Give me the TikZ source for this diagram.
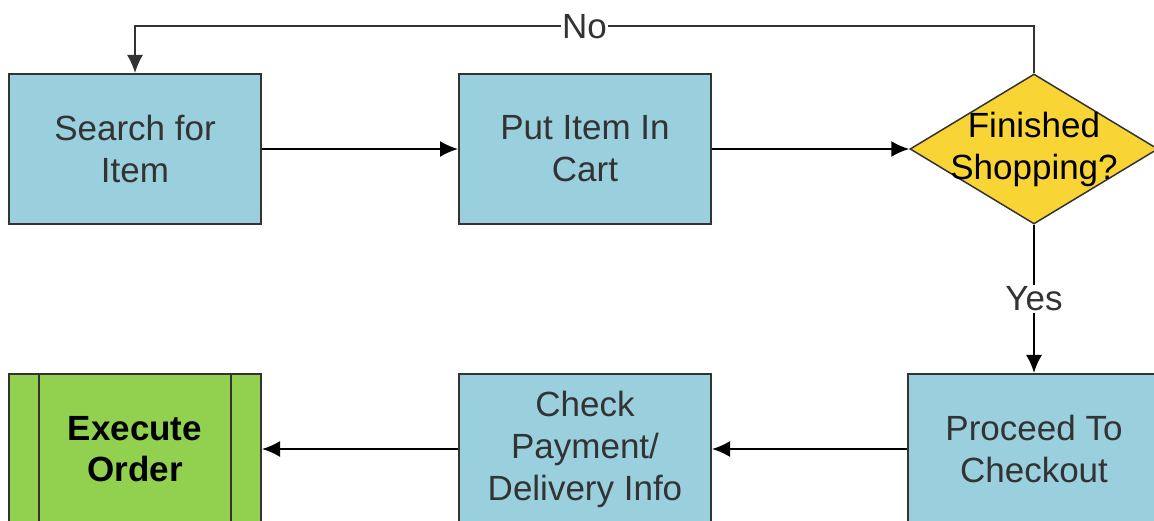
\documentclass[tikz,border=0pt]{standalone}
\usepackage{fontspec}
\setmainfont{Liberation Sans}
\usetikzlibrary{arrows.meta,shapes.geometric}

\definecolor{boxblue}{HTML}{9ACFDD}
\definecolor{askyellow}{HTML}{F8D535}
\definecolor{donegreen}{HTML}{92D050}
\definecolor{inkgray}{HTML}{333333}

\begin{document}
\begin{tikzpicture}[x=1pt, y=1pt, ->, >={Latex[length=18pt,width=16pt]}, line width=2pt,
  every node/.style={font=\fontsize{35}{42}\selectfont, text=inkgray},
  task box/.style={rectangle, draw=inkgray, fill=boxblue, minimum width=252pt, minimum height=150pt, align=center, inner sep=0pt},
  order box/.style={task box, fill=donegreen, text=black, font=\fontsize{35}{41}\selectfont\bfseries},
  decision/.style={diamond, draw=inkgray, line width=1.5pt, fill=askyellow, minimum width=248pt, minimum height=150pt, inner sep=0pt}]

  \clip (0,0) rectangle (1154,521);

  \node[task box] (search) at (135,372) {Search for\\Item};
  \node[task box] (cart) at (585,372) {Put Item In\\Cart};
  \node[decision, label={[align=center, text=black]center:Finished\\Shopping?}] (finished) at (1034,372) {};

  \node[task box] (checkout) at (1034,72) {Proceed To\\Checkout};
  \node[task box] (payment) at (585,72) {Check\\Payment/\\Delivery Info};
  \node[order box] (execute) at (135,72) {Execute\\Order};
  \draw[-, draw=inkgray] ([xshift=31pt]execute.north west) -- ([xshift=31pt]execute.south west);
  \draw[-, draw=inkgray] ([xshift=-31pt]execute.north east) -- ([xshift=-31pt]execute.south east);

  \path[draw=black]
    (search) edge (cart)
    (cart) edge (finished)
    (finished) edge node[fill=white, inner sep=2pt] {Yes} (checkout)
    (checkout) edge (payment)
    (payment) edge (execute);

  \draw[draw=inkgray, line width=1.6pt] (finished.north) -- ++(0,47) -| node[pos=0.25, fill=white, inner sep=1pt] {No} (search.north);
\end{tikzpicture}
\end{document}
